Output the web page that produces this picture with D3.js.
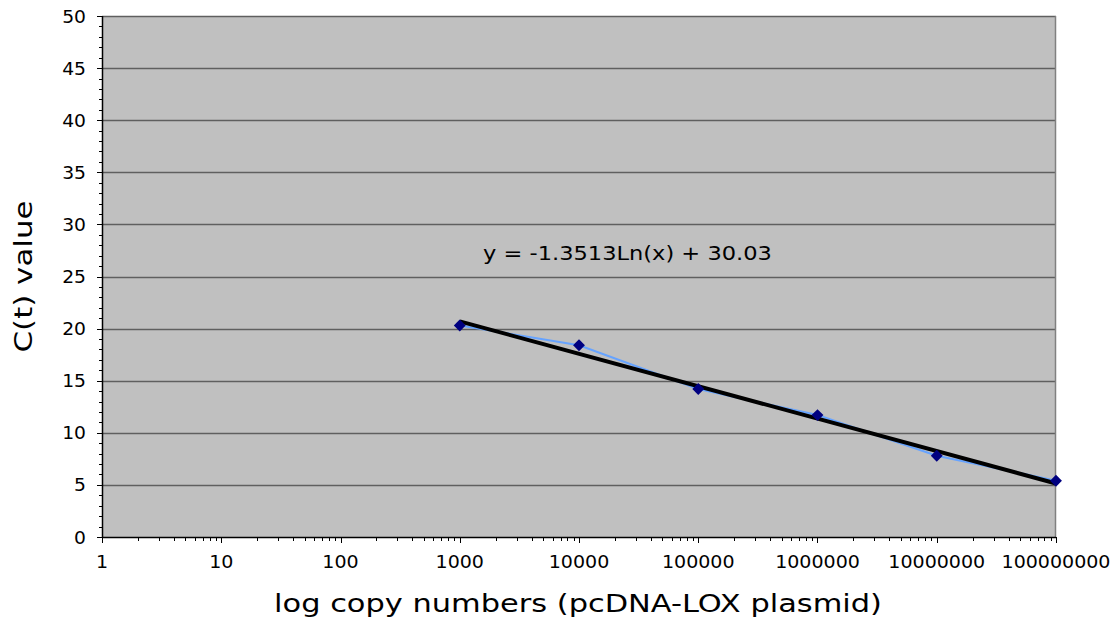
<!DOCTYPE html>
<html><head><meta charset="utf-8">
<script src="https://cdn.jsdelivr.net/npm/d3@7"></script>
<style>body{margin:0;background:#fff}svg{display:block}text{font-family:"DejaVu Sans",Verdana,sans-serif;fill:#000}</style>
</head><body><svg id="c" width="1118" height="619"></svg>
<script>
const copies = [1e3, 1e4, 1e5, 1e6, 1e7, 1e8];
const ctValues = [20.3, 18.4, 14.2, 11.7, 7.8, 5.4];
const xTickLabels = ["1","10","100","1000","10000","100000","1000000","10000000","100000000"];
const yTickLabels = [0,5,10,15,20,25,30,35,40,45,50];
const trendSlope = -1.3513, trendIntercept = 30.03;
const equationText = "y = -1.3513Ln(x) + 30.03";
const xTitle = "log copy numbers (pcDNA-LOX plasmid)";
const yTitle = "C(t) value";

const svg = d3.select("#c");
const L=102, R=1056, T=16, B=537;
const x = d3.scaleLog().domain([1,1e8]).range([L,R]);
const y = d3.scaleLinear().domain([0,50]).range([B,T]);

svg.append("rect").attr("x",L).attr("y",T).attr("width",R-L).attr("height",B-T).attr("fill","#c0c0c0");
// gridlines
svg.append("g").selectAll("line").data(yTickLabels.filter(v=>v>0)).join("line")
  .attr("x1",L).attr("x2",R).attr("y1",d=>Math.round(y(d))+0.5).attr("y2",d=>Math.round(y(d))+0.5)
  .attr("stroke","#5f5f5f").attr("stroke-width",1.3);
// right border
svg.append("line").attr("x1",R-0.5).attr("x2",R-0.5).attr("y1",T).attr("y2",B).attr("stroke","#808080").attr("stroke-width",1.5);

// Y axis
const yMinor = d3.range(0,50.01,1);
svg.append("g").selectAll("line").data(yMinor).join("line")
  .attr("x1",d=>d%5===0?L-5:L-3).attr("x2",L).attr("y1",d=>Math.round(y(d))+0.5).attr("y2",d=>Math.round(y(d))+0.5)
  .attr("stroke","#000").attr("stroke-width",1);
svg.append("line").attr("x1",L+0.5).attr("x2",L+0.5).attr("y1",T).attr("y2",B+1).attr("stroke","#000").attr("stroke-width",1.5);
svg.append("g").selectAll("text").data(yTickLabels).join("text")
  .attr("transform",d=>`translate(86,${y(d)+6.5}) scale(1.1,1)`).attr("text-anchor","end").attr("font-size",17).text(d=>d);

// X axis
const xMinor = [];
for (let e=0;e<8;e++) for (let k=1;k<=10;k++) xMinor.push(Math.pow(10,e)*k);
svg.append("g").selectAll("line").data(xMinor).join("line")
  .attr("x1",d=>Math.round(x(d))+0.5).attr("x2",d=>Math.round(x(d))+0.5)
  .attr("y1",B).attr("y2",d=>Math.abs(Math.log10(d)-Math.round(Math.log10(d)))<1e-9?B+6:B+4)
  .attr("stroke","#000").attr("stroke-width",1);
svg.append("line").attr("x1",L).attr("x2",R).attr("y1",B+0.5).attr("y2",B+0.5).attr("stroke","#000").attr("stroke-width",1.5);
svg.append("g").selectAll("text").data(xTickLabels).join("text")
  .attr("transform",d=>`translate(${x(+d)},568) scale(1.12,1)`).attr("text-anchor","middle").attr("font-size",17).text(d=>d);

// data line
const pts = copies.map((c,i)=>[c,ctValues[i]]);
svg.append("path").datum(pts).attr("fill","none").attr("stroke","#66a3ff").attr("stroke-width",2)
  .attr("d",d3.line().x(d=>x(d[0])).y(d=>y(d[1])));
// trendline
const trendX = [copies[0], copies[copies.length-1]];
svg.append("path").datum(trendX.map(c=>[c, trendSlope*Math.log(c)+trendIntercept]))
  .attr("fill","none").attr("stroke","#000").attr("stroke-width",4)
  .attr("d",d3.line().x(d=>x(d[0])).y(d=>y(d[1])));
// markers
svg.append("g").selectAll("path").data(pts).join("path")
  .attr("transform",d=>`translate(${x(d[0])},${y(d[1])})`)
  .attr("d",d3.symbol(d3.symbolDiamond2,90)).attr("fill","#000080");

// equation
const eq = svg.append("text").attr("font-size",20).attr("text-anchor","start").text(equationText);
{ const w = eq.node().getComputedTextLength(); eq.attr("transform",`translate(483,260) scale(${289/w},1)`); }

// titles
const xt = svg.append("text").attr("text-anchor","middle").attr("font-size",25).text(xTitle);
{ const w = xt.node().getComputedTextLength(); xt.attr("transform",`translate(578,612) scale(${608/w},1)`); }
const yt = svg.append("text").attr("text-anchor","middle").attr("font-size",24).text(yTitle);
{ const w = yt.node().getComputedTextLength(); yt.attr("transform",`translate(32,${(T+B)/2}) rotate(-90) scale(${152/w},1)`); }
</script></body></html>
